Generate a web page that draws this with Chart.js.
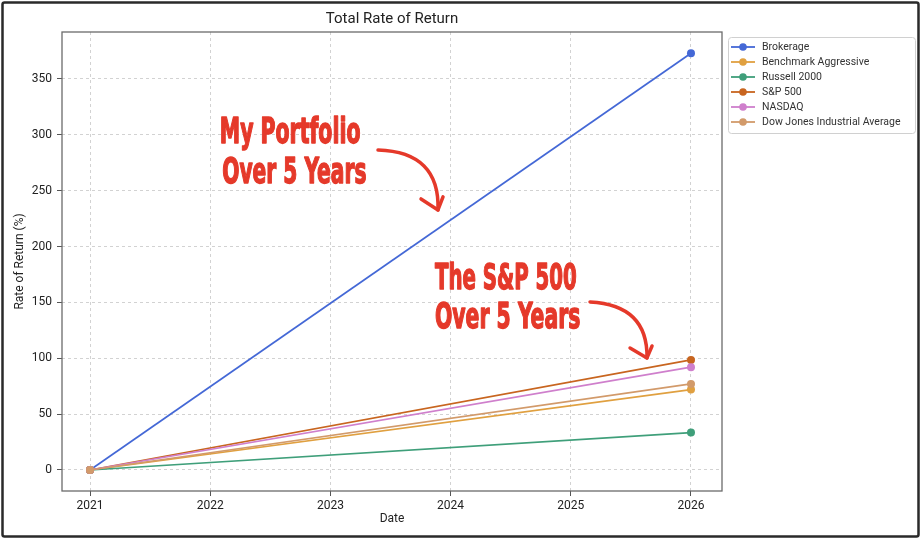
<!DOCTYPE html>
<html>
<head>
<meta charset="utf-8">
<script src="https://cdn.jsdelivr.net/npm/chart.js@4.4.1/dist/chart.umd.min.js"></script>
<style>
  html, body { margin: 0; padding: 0; background: #fff; }
  #wrap { width: 922px; height: 540px; }
</style>
</head>
<body>
<div id="wrap"><canvas id="chart" width="922" height="540"></canvas></div>
<script>
'use strict';
// data
const years = [2021, 2026];
const seriesNames = ['Brokerage', 'Benchmark Aggressive', 'Russell 2000', 'S&P 500', 'NASDAQ', 'Dow Jones Industrial Average'];
const brokerage = [0, 373];
const benchmarkAggressive = [0, 72];
const russell2000 = [0, 33.5];
const sp500 = [0, 98.5];
const nasdaq = [0, 92];
const dowJones = [0, 77];
const xTicks = [2021, 2022, 2023, 2024, 2025, 2026];
const yTicks = [0, 50, 100, 150, 200, 250, 300, 350];

const colors = ['#4468d6', '#e0a040', '#3f9f7a', '#c8651f', '#cf7fcc', '#d29a6a'];
const seriesValues = [brokerage, benchmarkAggressive, russell2000, sp500, nasdaq, dowJones];

// red hand-made notes, in data units
const notes = [
  {lines: [{text: 'My Portfolio', x0: 2022.08, x1: 2023.25, y: 292.7},
           {text: 'Over 5 Years', x0: 2022.10, x1: 2023.30, y: 256.9}],
   arrow: {p0: [2023.396, 286.4], c: [2023.912, 284.7], p2: [2023.895, 232.7],
           a1: [2023.754, 242.6], a2: [2023.937, 244.4]}},
  {lines: [{text: 'The S&P 500', x0: 2023.87, x1: 2025.05, y: 162.0},
           {text: 'Over 5 Years', x0: 2023.87, x1: 2025.08, y: 127.1}],
   arrow: {p0: [2025.160, 150.4], c: [2025.642, 147.7], p2: [2025.634, 100.3],
           a1: [2025.493, 109.2], a2: [2025.676, 111.0]}}
];

const FONT = 'Roboto, "Open Sans", sans-serif';

const datasets = seriesNames.map((name, i) => ({
  label: name,
  data: years.map((y, j) => ({x: y, y: seriesValues[i][j]})),
  borderColor: colors[i],
  backgroundColor: colors[i],
  borderWidth: 1.7,
  pointRadius: 4,
  pointBorderWidth: 0,
  pointHoverRadius: 4,
  order: seriesNames.length - i
}));

const decor = {
  id: 'decor',
  afterDatasetsDraw(chart) {
    const {ctx, chartArea: a} = chart;
    ctx.save();
    ctx.strokeStyle = '#6b6b6b';
    ctx.lineWidth = 1.3;
    ctx.strokeRect(a.left, a.top, a.right - a.left, a.bottom - a.top);
    ctx.restore();
  },
  afterDraw(chart) {
    const {ctx, chartArea: a, scales: {x, y}} = chart;
    const px = v => x.getPixelForValue(v);
    const py = v => y.getPixelForValue(v);

    // notes
    ctx.save();
    ctx.fillStyle = '#e5392a';
    ctx.strokeStyle = '#e5392a';
    ctx.font = 'bold 35px "Liberation Sans Narrow", "DejaVu Sans Condensed", sans-serif';
    ctx.textBaseline = 'alphabetic';
    notes.forEach(n => {
      n.lines.forEach(l => {
        const w = ctx.measureText(l.text).width;
        const target = px(l.x1) - px(l.x0);
        ctx.save();
        ctx.translate(px(l.x0), py(l.y));
        ctx.scale(target / w, 1);
        ctx.lineWidth = 1.4;
        ctx.lineJoin = 'round';
        ctx.fillText(l.text, 0, 0);
        ctx.strokeText(l.text, 0, 0);
        ctx.restore();
      });
      const ar = n.arrow;
      ctx.lineWidth = 3.5;
      ctx.lineCap = 'round';
      ctx.lineJoin = 'round';
      ctx.beginPath();
      ctx.moveTo(px(ar.p0[0]), py(ar.p0[1]));
      ctx.quadraticCurveTo(px(ar.c[0]), py(ar.c[1]), px(ar.p2[0]), py(ar.p2[1]));
      ctx.stroke();
      ctx.beginPath();
      ctx.moveTo(px(ar.a1[0]), py(ar.a1[1]));
      ctx.lineTo(px(ar.p2[0]), py(ar.p2[1]));
      ctx.lineTo(px(ar.a2[0]), py(ar.a2[1]));
      ctx.stroke();
    });
    ctx.restore();

    // legend
    const lx = a.right + 6, ly = a.top + 5, lw = 187, lh = 96;
    ctx.save();
    ctx.fillStyle = 'rgba(255,255,255,0.9)';
    ctx.strokeStyle = '#d0d0d0';
    ctx.lineWidth = 1;
    ctx.beginPath();
    ctx.roundRect(lx + 0.5, ly + 0.5, lw, lh, 3);
    ctx.fill();
    ctx.stroke();
    ctx.font = '10.5px ' + FONT;
    ctx.textBaseline = 'middle';
    seriesNames.forEach((name, i) => {
      const cy = ly + 10 + i * 15;
      ctx.strokeStyle = colors[i];
      ctx.fillStyle = colors[i];
      ctx.lineWidth = 1.8;
      ctx.beginPath();
      ctx.moveTo(lx + 3, cy);
      ctx.lineTo(lx + 27, cy);
      ctx.stroke();
      ctx.beginPath();
      ctx.arc(lx + 15, cy, 3.8, 0, Math.PI * 2);
      ctx.fill();
      ctx.fillStyle = '#333';
      ctx.fillText(name, lx + 34, cy + 0.5);
    });
    ctx.restore();

    // frame round the picture
    ctx.save();
    ctx.strokeStyle = '#2a2a2a';
    ctx.lineWidth = 2.5;
    ctx.beginPath();
    ctx.roundRect(2.5, 2.5, 916, 534, 2);
    ctx.stroke();
    ctx.restore();
  }
};

new Chart(document.getElementById('chart'), {
  type: 'line',
  data: {datasets: datasets},
  options: {
    responsive: false,
    animation: false,
    devicePixelRatio: 1,
    layout: {padding: {left: 0, right: 200, top: 0, bottom: 0}},
    plugins: {
      legend: {display: false},
      tooltip: {enabled: false},
      title: {
        display: true,
        text: 'Total Rate of Return',
        fullSize: false,
        color: '#222',
        font: {family: FONT, size: 15, weight: 'normal'},
        padding: {top: 10, bottom: 4}
      }
    },
    scales: {
      x: {
        type: 'linear',
        min: 2020.767,
        max: 2026.258,
        afterBuildTicks: axis => { axis.ticks = xTicks.map(v => ({value: v})); },
        afterFit: s => { s.height = 49; },
        ticks: {
          callback: v => String(v),
          color: '#222',
          font: {family: FONT, size: 12},
          padding: 3,
          maxRotation: 0
        },
        grid: {color: '#d2d2d2', lineWidth: 1, tickColor: '#555', tickLength: 5},
        border: {display: false, dash: [3, 3]},
        title: {
          display: true, text: 'Date', color: '#222',
          font: {family: FONT, size: 12},
          padding: {top: 4, bottom: 14}
        }
      },
      y: {
        min: -18.8,
        max: 392,
        afterBuildTicks: axis => { axis.ticks = yTicks.map(v => ({value: v})); },
        afterFit: s => { s.width = 62; },
        ticks: {
          color: '#222',
          font: {family: FONT, size: 12},
          padding: 5
        },
        grid: {color: '#d2d2d2', lineWidth: 1, tickColor: '#555', tickLength: 5},
        border: {display: false, dash: [3, 3]},
        title: {
          display: true, text: 'Rate of Return (%)', color: '#222',
          font: {family: FONT, size: 12},
          padding: {top: 13, bottom: 4}
        }
      }
    }
  },
  plugins: [decor]
});
</script>
</body>
</html>
